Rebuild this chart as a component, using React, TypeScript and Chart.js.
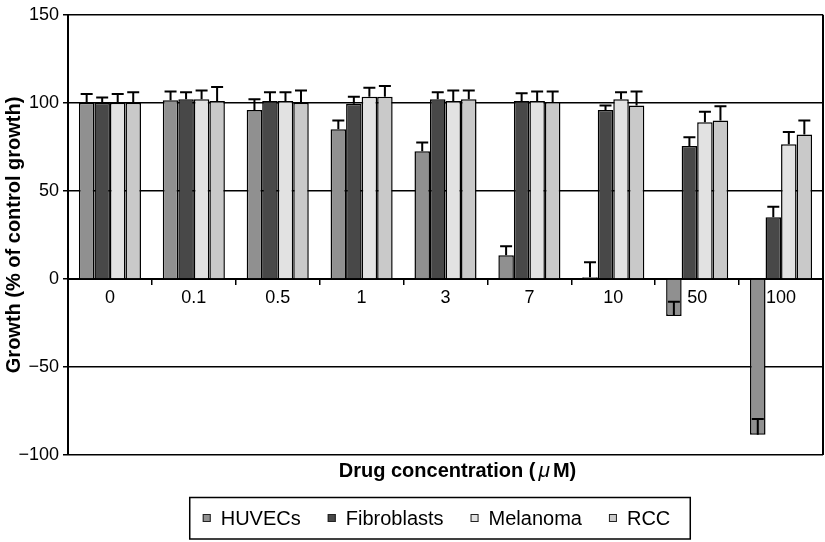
import React, { useEffect, useRef } from "react";
import { Chart, registerables } from "chart.js";

Chart.register(...registerables);

const FONT = "'Liberation Sans', Arial, Helvetica, sans-serif";

const categories = ["0", "0.1", "0.5", "1", "3", "7", "10", "50", "100"];
const seriesNames = ["HUVECs", "Fibroblasts", "Melanoma", "RCC"];
const seriesColors = ["#909090", "#484848", "#e2e2e2", "#c9c9c9"];

const huvecs = [100, 101.5, 96, 85, 72.5, 13.5, 1, -21, -88.5];
const huvecsErr = [5, 5, 6, 5, 5, 5, 8.5, 8, 9];
const fibroblasts = [100, 102, 101, 99.5, 102, 101, 96, 75.5, 35];
const fibroblastsErr = [3, 4, 5, 4, 4, 4.5, 2.5, 5, 6];
const melanoma = [100, 102, 101, 103.5, 101, 101, 102, 89, 76.5];
const melanomaErr = [5, 5, 5, 5, 6, 5.5, 4, 6, 7];
const rcc = [100, 101, 100, 103.5, 102, 100.5, 98.5, 90, 82];
const rccErr = [6, 8, 7, 6, 5, 6, 8, 8, 8];

const yTicks = [-100, -50, 0, 50, 100, 150];
const xTitleParts = ["Drug concentration (", "\u03bc", "M)"];
const yTitle = "Growth (% of control growth)";

const seriesValues = [huvecs, fibroblasts, melanoma, rcc];
const seriesErrors = [huvecsErr, fibroblastsErr, melanomaErr, rccErr];

const errorBarPlugin = {
  id: "errorBars",
  afterDatasetsDraw(chart: any) {
    const ctx = chart.ctx;
    const yScale = chart.scales.y;
    ctx.save();
    ctx.strokeStyle = "#000";
    ctx.lineWidth = 2;
    chart.data.datasets.forEach((ds: any, i: number) => {
      const meta = chart.getDatasetMeta(i);
      const errs = seriesErrors[i];
      meta.data.forEach((bar: any, j: number) => {
        const v = ds.data[j];
        const e = errs[j];
        const x = bar.x;
        const y0 = yScale.getPixelForValue(v);
        const y1 = yScale.getPixelForValue(v + e);
        ctx.beginPath();
        ctx.moveTo(x, y0);
        ctx.lineTo(x, y1);
        ctx.moveTo(x - 6, y1);
        ctx.lineTo(x + 6, y1);
        ctx.stroke();
      });
    });
    ctx.restore();
  },
};

const frameAndLegendPlugin = {
  id: "frameAndLegend",
  afterDraw(chart: any) {
    const ctx = chart.ctx;
    const area = chart.chartArea;
    ctx.save();
    // right border of plot area
    ctx.strokeStyle = "#000";
    ctx.lineWidth = 2;
    ctx.beginPath();
    ctx.moveTo(area.right, area.top);
    ctx.lineTo(area.right, area.bottom);
    ctx.stroke();

    // x axis title (mixed fonts: italic mu)
    const fonts = [
      "bold 20px " + FONT,
      "italic 21px " + FONT,
      "bold 20px " + FONT,
    ];
    const spacing = [3, 3, 0];
    const partW = xTitleParts.map((p, i) => {
      ctx.font = fonts[i];
      return ctx.measureText(p).width;
    });
    const titleW =
      partW.reduce((a: number, b: number) => a + b, 0) +
      spacing.reduce((a, b) => a + b, 0);
    let tx = (area.left + area.right) / 2 + 12 - titleW / 2;
    const ty = area.bottom + 16;
    ctx.fillStyle = "#000";
    ctx.textBaseline = "middle";
    xTitleParts.forEach((p, i) => {
      ctx.font = fonts[i];
      ctx.fillText(p, tx, ty);
      tx += partW[i] + spacing[i];
    });

    // legend
    ctx.font = "20px " + FONT;
    ctx.textBaseline = "middle";
    const box = 8;
    const gapIn = 10;
    const gapOut = 27;
    const widths = seriesNames.map((n) => ctx.measureText(n).width);
    const total =
      widths.reduce((a: number, b: number) => a + b, 0) +
      seriesNames.length * (box + gapIn) +
      (seriesNames.length - 1) * gapOut;
    const center = (area.left + area.right) / 2 - 9;
    const startX = center - total / 2;
    const cy = chart.height - 24;
    let x = startX;
    seriesNames.forEach((n, i) => {
      ctx.fillStyle = seriesColors[i];
      ctx.fillRect(x, cy - box / 2, box, box);
      ctx.strokeStyle = "#222";
      ctx.lineWidth = 1;
      ctx.strokeRect(x + 0.5, cy - box / 2 + 0.5, box - 1, box - 1);
      ctx.fillStyle = "#000";
      ctx.fillText(n, x + box + gapIn, cy + 1);
      x += box + gapIn + widths[i] + gapOut;
    });
    const endX = x - gapOut;
    ctx.strokeStyle = "#000";
    ctx.lineWidth = 1.5;
    ctx.strokeRect(startX - 13, chart.height - 44.5, endX - startX + 33, 41.5);
    ctx.restore();
  },
};

export default function App() {
  const ref = useRef<HTMLCanvasElement | null>(null);

  useEffect(() => {
    document.body.style.margin = "0";
    if (!ref.current) return;
    const chart = new Chart(ref.current, {
      type: "bar",
      data: {
        labels: categories,
        datasets: seriesNames.map((name, i) => ({
          label: name,
          data: seriesValues[i],
          backgroundColor: seriesColors[i],
          borderColor: "#000",
          borderWidth: 1.5,
          barPercentage: 1,
          categoryPercentage: 0.74,
        })),
      },
      options: {
        responsive: false,
        animation: false,
        devicePixelRatio: 1,
        layout: { padding: { top: 14, right: 2, bottom: 87, left: 0 } },
        plugins: {
          legend: { display: false },
          tooltip: { enabled: false },
        },
        scales: {
          x: {
            type: "category",
            position: { y: 0 } as any,
            grid: {
              display: true,
              drawOnChartArea: false,
              drawTicks: true,
              tickLength: 5,
              color: "#000",
              lineWidth: 1.5,
              offset: true,
            },
            border: { display: true, color: "#000", width: 2 },
            ticks: {
              color: "#000",
              font: { size: 18, family: FONT },
              padding: 3,
              maxRotation: 0,
            },
          },
          y: {
            type: "linear",
            min: -100,
            max: 150,
            afterBuildTicks(scale: any) {
              scale.ticks = yTicks.map((v) => ({ value: v }));
            },
            afterFit(scale: any) {
              scale.width = 68;
            },
            grid: {
              color: "#000",
              lineWidth: 1.5,
              tickLength: 5,
            },
            border: { display: true, color: "#000", width: 2 },
            ticks: {
              color: "#000",
              font: { size: 18, family: FONT },
              padding: 4,
              callback: (v: any) =>
                Number(v) < 0 ? "\u2212" + Math.abs(Number(v)) : String(v),
            },
            title: {
              display: true,
              text: yTitle,
              color: "#000",
              font: { size: 20, weight: "bold", family: FONT },
              padding: { top: 2, bottom: 0 },
            },
          },
        },
      },
      plugins: [errorBarPlugin, frameAndLegendPlugin],
    });
    return () => chart.destroy();
  }, []);

  return (
    <div style={{ width: 825, height: 542 }}>
      <canvas ref={ref} width={825} height={542} />
    </div>
  );
}
